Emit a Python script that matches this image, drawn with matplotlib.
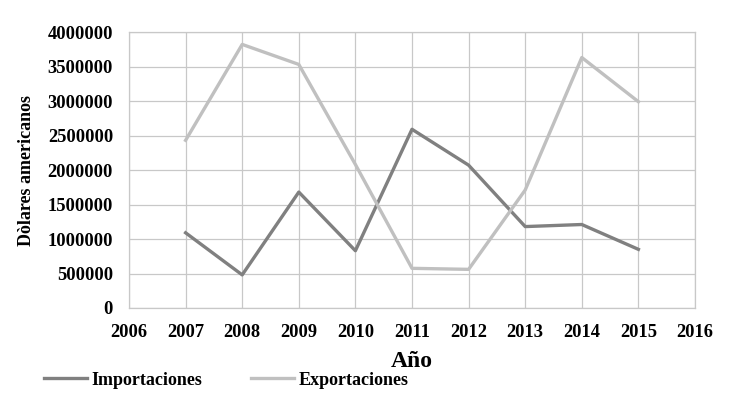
import matplotlib
matplotlib.use("Agg")
import matplotlib.pyplot as plt
from matplotlib.ticker import MultipleLocator, FuncFormatter

years = [2007, 2008, 2009, 2010, 2011, 2012, 2013, 2014, 2015]
importaciones = [1090000, 480000, 1680000, 830000, 2590000, 2070000, 1180000, 1210000, 850000]
exportaciones = [2430000, 3820000, 3530000, 2080000, 575000, 560000, 1710000, 3630000, 2990000]
xticks = list(range(2006, 2017))

plt.rcParams['font.family'] = ['Liberation Serif', 'DejaVu Serif']
plt.rcParams['font.weight'] = 'bold'

fig = plt.figure(figsize=(7.45, 4.11), dpi=100)
ax = fig.add_axes([129/745, 1 - 308/411, (695-129)/745, (308-32)/411])

ax.plot(years, importaciones, color='#808080', lw=2.4, label='Importaciones')
ax.plot(years, exportaciones, color='#c0c0c0', lw=2.4, label='Exportaciones')

ax.set_xlim(2006, 2016)
ax.set_ylim(0, 4000000)
ax.set_xticks(xticks)
ax.yaxis.set_major_locator(MultipleLocator(500000))
ax.yaxis.set_major_formatter(FuncFormatter(lambda v, p: f"{int(v)}"))
ax.grid(True, color='#c8c8c8', lw=0.9)
ax.set_axisbelow(True)
for s in ax.spines.values():
    s.set_color('#c8c8c8')
    s.set_linewidth(0.9)
ax.tick_params(length=0, labelsize=13.3)
ax.tick_params(axis='y', pad=11.5)
ax.tick_params(axis='x', pad=11.5)
for lbl in ax.get_xticklabels() + ax.get_yticklabels():
    lbl.set_fontweight('bold')

ax.set_xlabel('Año', fontsize=17, fontweight='bold', labelpad=7)
ax.set_ylabel('Dòlares americanos', fontsize=13, fontweight='bold', labelpad=9)

fig.legend(loc='center left', bbox_to_anchor=(0.0373, 1 - 380/411), ncol=2, frameon=False,
           handlelength=2.4, handletextpad=0.22, columnspacing=2.7, borderpad=0.4,
           prop={'weight': 'bold', 'size': 13})

fig.savefig('out.png', dpi=100)
